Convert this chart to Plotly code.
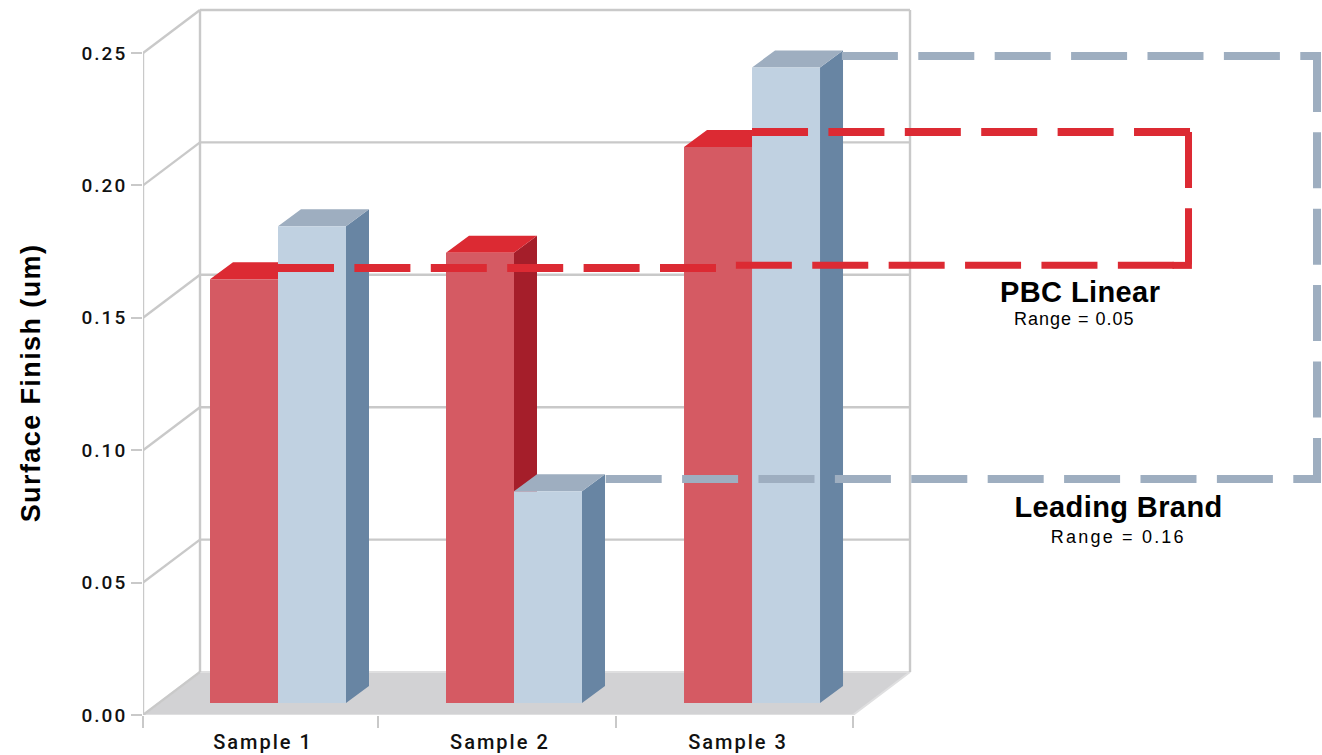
import plotly.graph_objects as go

# ---- data ----
SAMPLES = ["Sample 1", "Sample 2", "Sample 3"]
PBC_LINEAR = [0.16, 0.17, 0.21]
LEADING_BRAND = [0.18, 0.08, 0.24]
Y_TICKS = [0.00, 0.05, 0.10, 0.15, 0.20, 0.25]
X_BOUNDS = [-0.5, 0.493, 1.4986, 2.5]
LABEL_POS = [0.007, 1.008, 2.014]
BAR_POS = [0.0704, 1.0676, 2.0733]

# guide lines (axis units)
PBC_GUIDE_LOW_L = ([0.0704, 1.921], [0.1688, 0.1688])
PBC_GUIDE_LOW_R = ([2.005, 3.932], [0.1698, 0.1698])
PBC_GUIDE_RIGHT = ([3.9176, 3.9176], [0.2202, 0.1698])
PBC_GUIDE_TOP = ([2.0733, 3.932], [0.2202, 0.2202])
PBC_GUIDE_CORNER = ([3.85, 3.932], [0.1698, 0.1698])
LB_GUIDE_TOP = ([2.453, 4.4774], [0.2489, 0.2489])
LB_GUIDE_RIGHT = ([4.4605, 4.4605], [0.2489, 0.0891])
LB_GUIDE_LOW = ([1.455, 4.4774], [0.0891, 0.0891])

# ---- geometry (axis units) ----
UX, UY = 236.67, 2648.0     # px per axis unit
BAR_W = 68 / UX
LIFT = 12 / UY
BAR_DX, BAR_DY = 23 / UX, 17 / UY
WALL_DX, WALL_DY = 57 / UX, 43 / UY
X0, X1 = X_BOUNDS[0], X_BOUNDS[-1]
XR = [X0, X0 + 1179 / UX]
YR = [0, 715 / UY]

GRID = "#c9c9c9"
RED_FRONT, RED_TOP, RED_SIDE = "#d55a63", "#dc2a33", "#a51e2a"
BLUE_FRONT, BLUE_TOP, BLUE_SIDE = "#c0d1e1", "#9eaec0", "#6885a3"
GUIDE_DASH = "56px,20.4px"


def path(segments):
    xs, ys = [], []
    for sx, sy in segments:
        xs += list(sx) + [None]
        ys += list(sy) + [None]
    return xs, ys


fig = go.Figure()


def line_trace(segments, color, width):
    xs, ys = path(segments)
    fig.add_trace(go.Scatter(x=xs, y=ys, mode="lines", line=dict(color=color, width=width),
                             hoverinfo="skip", showlegend=False))


def fill_trace(segments, color, border=None):
    xs, ys = path(segments)
    fig.add_trace(go.Scatter(x=xs, y=ys, mode="lines", fill="toself", fillcolor=color,
                             line=dict(color=border or color, width=2 if border else 0),
                             hoverinfo="skip", showlegend=False))


# floor
fill_trace([([X0, X1, X1 + WALL_DX, X0 + WALL_DX, X0], [0, 0, WALL_DY, WALL_DY, 0])], "#d2d2d4", "#dfdfe0")
# walls and gridlines
wall = [([X0, X0], [0, Y_TICKS[-1]]),
        ([X0 + WALL_DX] * 2, [WALL_DY, Y_TICKS[-1] + WALL_DY]),
        ([X1 + WALL_DX] * 2, [WALL_DY, Y_TICKS[-1] + WALL_DY])]
for t in Y_TICKS:
    wall.append(([X0, X0 + WALL_DX], [t, t + WALL_DY]))
    if t > 0:
        wall.append(([X0 + WALL_DX, X1 + WALL_DX], [t + WALL_DY, t + WALL_DY]))
line_trace(wall, GRID, 2.4)


def faces(values, xl_of):
    sides, tops = [], []
    for p, v in zip(BAR_POS, values):
        xl = xl_of(p)
        xr = xl + BAR_W
        top = LIFT + v
        sides.append(([xr, xr, xr + BAR_DX, xr + BAR_DX, xr],
                      [LIFT, top, top + BAR_DY, LIFT + BAR_DY, LIFT]))
        tops.append(([xl, xr, xr + BAR_DX, xl + BAR_DX, xl],
                     [top, top, top + BAR_DY, top + BAR_DY, top]))
    return sides, tops


s, t = faces(PBC_LINEAR, lambda p: p - BAR_W)
fill_trace(s, RED_SIDE)
fill_trace(t, RED_TOP)
s, t = faces(LEADING_BRAND, lambda p: p)
fill_trace(s, BLUE_SIDE)
fill_trace(t, BLUE_TOP)

# bar fronts, on an overlaid copy of the axes so they sit above the faces
fig.add_trace(go.Bar(x=BAR_POS, y=PBC_LINEAR, base=LIFT, width=BAR_W, offset=-BAR_W,
                     marker=dict(color=RED_FRONT, line=dict(width=0)), name="PBC Linear",
                     xaxis="x2", yaxis="y2", showlegend=False))
fig.add_trace(go.Bar(x=BAR_POS, y=LEADING_BRAND, base=LIFT, width=BAR_W, offset=0,
                     marker=dict(color=BLUE_FRONT, line=dict(width=0)), name="Leading Brand",
                     xaxis="x2", yaxis="y2", showlegend=False))

# dashed range guides
for (gx, gy), color, width, dash in [
    (LB_GUIDE_TOP, BLUE_TOP, 8, GUIDE_DASH), (LB_GUIDE_RIGHT, BLUE_TOP, 8, GUIDE_DASH),
    (LB_GUIDE_LOW, BLUE_TOP, 8, GUIDE_DASH),
    (PBC_GUIDE_LOW_L, RED_TOP, 8, GUIDE_DASH), (PBC_GUIDE_LOW_R, RED_TOP, 7, GUIDE_DASH),
    (PBC_GUIDE_CORNER, RED_TOP, 7, "solid"), (PBC_GUIDE_RIGHT, RED_TOP, 7, GUIDE_DASH),
    (PBC_GUIDE_TOP, RED_TOP, 8, GUIDE_DASH),
]:
    fig.add_trace(go.Scatter(x=gx, y=gy, mode="lines", xaxis="x2", yaxis="y2",
                             line=dict(color=color, width=width, dash=dash),
                             hoverinfo="skip", showlegend=False))

fig.update_layout(
    width=1322, height=755, autosize=False,
    margin=dict(l=143, r=0, t=0, b=40),
    paper_bgcolor="white", plot_bgcolor="white",
    barmode="overlay", showlegend=False,
    xaxis=dict(range=XR, showgrid=False, zeroline=False, showline=False,
               tickmode="array", tickvals=LABEL_POS, ticktext=SAMPLES,
               ticks="outside", ticklen=9, tickcolor="rgba(0,0,0,0)",
               tickfont=dict(family="Roboto", size=20, color="#111111", weight=500),
               minor=dict(tickmode="array", tickvals=X_BOUNDS, ticks="outside",
                          ticklen=12, tickwidth=2.4, tickcolor=GRID, showgrid=False)),
    yaxis=dict(range=YR, showgrid=False, zeroline=False, showline=False,
               tickmode="array", tickvals=Y_TICKS, ticktext=[f"{v:.2f}" for v in Y_TICKS],
               ticks="outside", ticklen=11, tickwidth=2.4, tickcolor=GRID,
               tickfont=dict(family="Roboto", size=19, color="#111111", weight=500)),
    xaxis2=dict(range=XR, overlaying="x", visible=False),
    yaxis2=dict(range=YR, overlaying="y", visible=False),
)


def label(text, px, py, size, bold=False, angle=0, family="Liberation Sans"):
    fig.add_annotation(text=text, xref="paper", yref="paper",
                       x=(px - 143) / 1179, y=(715 - py) / 715,
                       showarrow=False, textangle=angle, xanchor="center", yanchor="middle",
                       font=dict(family=family, size=size, color="#000000",
                                 weight=700 if bold else 400))


label("Surface Finish (um)", 31, 383, 27, bold=True, angle=-90)
label("PBC Linear", 1080, 292, 29, bold=True)
label("Range = 0.05", 1074, 319, 18)
label("Leading Brand", 1118, 507, 29, bold=True)
label("Range = 0.16", 1118, 537, 18)

SPACING = """
document.body.style.margin = '0';
(function () {
  var gd = document.getElementById('{plot_id}');
  var spacing = {'Surface Finish (um)': '1.4px', 'Range = 0.05': '1px', 'Range = 0.16': '2.2px',
                 'PBC Linear': '0.4px', 'Leading Brand': '0.4px'};
  function space() {
    gd.querySelectorAll('.xtick text').forEach(function (t) { t.style.letterSpacing = '2px'; });
    gd.querySelectorAll('.ytick text').forEach(function (t) { t.style.letterSpacing = '2px'; });
    gd.querySelectorAll('.annotation-text').forEach(function (t) {
      t.style.letterSpacing = spacing[t.textContent] || '0';
    });
  }
  space();
  gd.on('plotly_afterplot', space);
  setTimeout(space, 0);
})();
"""

fig.write_html("out.html", config={"displayModeBar": False}, post_script=SPACING)
